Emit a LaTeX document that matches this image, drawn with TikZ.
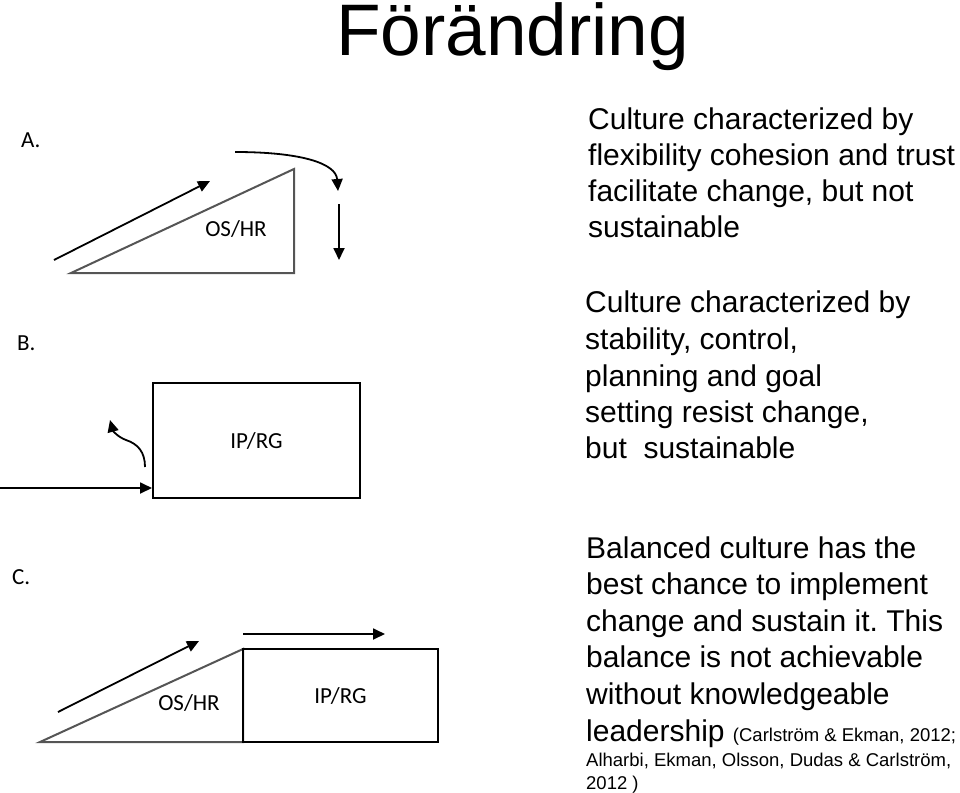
\documentclass[tikz,border=0pt]{standalone}
\usepackage{fontspec}
\setmainfont{Liberation Sans}
\newfontfamily\calfont{Carlito}
\usetikzlibrary{arrows.meta}
\definecolor{triline}{HTML}{555555}
\frenchspacing
\begin{document}
\begin{tikzpicture}[x=1pt,y=-1pt,
  txt/.style={anchor=base west, inner sep=0pt, font=\fontsize{30}{36}\selectfont},
  cite/.style={anchor=base west, inner sep=0pt, font=\fontsize{18.5}{22}\selectfont},
  panel/.style={anchor=base west, inner sep=0pt, font=\calfont\fontsize{23}{27}\selectfont},
  lbl/.style={inner sep=0pt, font=\calfont\fontsize{23}{27}\selectfont},
  tri/.style={draw=triline, line width=2pt, line join=miter},
  box/.style={draw=black, line width=2pt, inner sep=0pt, font=\calfont\fontsize{23}{27}\selectfont},
  arr/.style={draw=black, line width=1.8pt, -{Triangle[length=12pt,width=11pt]}}]
\useasboundingbox (0,0) rectangle (960,792);

% title
\node[anchor=base west, inner sep=0pt, font=\fontsize{73}{80}\selectfont] (title) at (336,56) {Förändring};

% ---------- Panel A ----------
\node[panel] (la) at (21,147) {A.};
\coordinate (a1) at (71,273);
\coordinate (a2) at (294,273);
\coordinate (a3) at (294,169);
\draw[tri] (a1) -- (a2) -- (a3) -- cycle;
\node[lbl] (aos) at (236,229) {OS/HR};
\coordinate (aas) at (54,260);
\coordinate (aae) at (210,181);
\draw[arr] (aas) -- (aae);
\coordinate (acs) at (235,152);
\coordinate (ace) at (338,191);
\draw[arr] (acs) .. controls (300,152) and (336,163) .. (ace);
\coordinate (ads) at (339,204);
\coordinate (ade) at (339,260);
\draw[arr] (ads) -- (ade);

\node[txt] (ta1) at (588,129) {Culture characterized by};
\node[txt] (ta2) at (588,165) {flexibility cohesion and trust};
\node[txt] (ta3) at (588,201) {facilitate change, but not};
\node[txt] (ta4) at (588,237) {sustainable};

% ---------- Panel B ----------
\node[panel] (lb) at (17,350) {B.};
\node[box, minimum width=207pt, minimum height=115pt] (rb) at (256.5,440.5) {IP/RG};
\coordinate (bhs) at (0,488);
\draw[arr] (bhs) -- (rb.west |- bhs);
\coordinate (bcs) at (145,467);
\coordinate (bce) at (110,420);
\draw[arr] (bcs) .. controls (145,452) and (138,444) .. (126,440) .. controls (118,437) and (113,431) .. (bce);

\node[txt] (tb1) at (585,312) {Culture characterized by};
\node[txt] (tb2) at (585,349) {stability, control,};
\node[txt] (tb3) at (585,386) {planning and goal};
\node[txt] (tb4) at (585,422) {setting resist change,};
\node[txt] (tb5) at (585,458) {but\ \ sustainable};

% ---------- Panel C ----------
\node[panel] (lc) at (12,584) {C.};
\coordinate (c1) at (40,742);
\coordinate (c2) at (243,742);
\coordinate (c3) at (243,649);
\draw[tri] (c1) -- (c2) -- (c3) -- cycle;
\node[box, minimum width=195pt, minimum height=93pt] (rc) at (340.5,695.5) {IP/RG};
\node[lbl] (cos) at (189,703) {OS/HR};
\coordinate (cas) at (58,712);
\coordinate (cae) at (199,641);
\draw[arr] (cas) -- (cae);
\coordinate (chs) at (243,634);
\coordinate (che) at (385,634);
\draw[arr] (chs) -- (che);

\node[txt] (tc1) at (586,558) {Balanced culture has the};
\node[txt] (tc2) at (586,594) {best chance to implement};
\node[txt] (tc3) at (586,631) {change and sustain it. This};
\node[txt] (tc4) at (586,667) {balance is not achievable};
\node[txt] (tc5) at (586,704) {without knowledgeable};
\node[txt] (tc6) at (586,741) {leadership \fontsize{18.5}{22}\selectfont(Carlström \& Ekman, 2012;};
\node[cite] (tc7) at (586,766) {Alharbi, Ekman, Olsson, Dudas \& Carlström,};
\node[cite] (tc8) at (586,789) {2012 )};
\end{tikzpicture}
\end{document}
